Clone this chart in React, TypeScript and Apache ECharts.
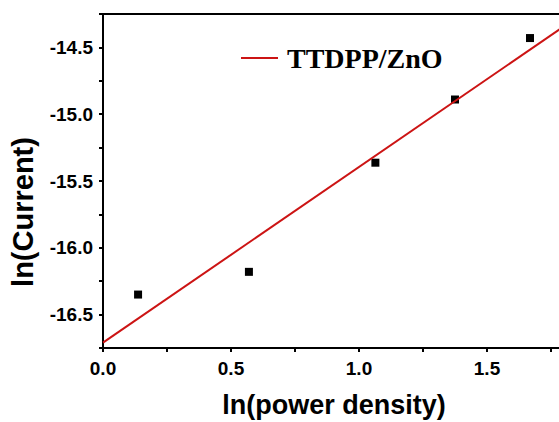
import React, { useEffect, useRef } from "react";
import * as echarts from "echarts";

const xData = [0.137, 0.57, 1.064, 1.375, 1.668];
const yData = [-16.35, -16.18, -15.363, -14.89, -14.43];
const fitX = [0, 2.0];
const fitY = [-16.71, -14.08];
const seriesName = "TTDPP/ZnO";
const xTitle = "ln(power density)";
const yTitle = "ln(Current)";

export default function App() {
  const ref = useRef<HTMLDivElement>(null);
  useEffect(() => {
    if (!ref.current) return;
    const chart = echarts.init(ref.current, null, { renderer: "svg" });
    const sans = "Liberation Sans, Arial, sans-serif";
    const fmt = (v: number) => {
      const r = Math.round(v * 100);
      if (v > 1.8) return "";
      return r % 50 === 0 ? v.toFixed(1) : "";
    };
    chart.setOption({
      animation: false,
      backgroundColor: "#fff",
      grid: {
        left: 103,
        top: 14,
        width: 512,
        height: 334,
        show: true,
        borderColor: "#000",
        borderWidth: 2,
        backgroundColor: "transparent",
        outerBoundsMode: "none",
      },
      legend: {
        data: [{ name: seriesName, icon: "rect" }],
        left: 236,
        top: 39,
        itemWidth: 37,
        itemHeight: 2,
        itemGap: 0,
        textStyle: {
          fontFamily: "Liberation Serif, Times New Roman, serif",
          fontWeight: "bold",
          fontSize: 28,
          color: "#000",
          padding: [0, 0, 0, 4],
        },
      },
      xAxis: {
        type: "value",
        min: 0,
        max: 2,
        interval: 0.25,
        splitLine: { show: false },
        axisLine: { show: true, onZero: false, lineStyle: { color: "#000", width: 2 } },
        axisTick: { show: true, length: 4, lineStyle: { color: "#000", width: 2 } },
        axisLabel: {
          formatter: fmt,
          color: "#000",
          fontFamily: sans,
          fontWeight: "bold",
          fontSize: 19,
          margin: 11,
        },
      },
      yAxis: {
        type: "value",
        min: -16.75,
        max: -14.25,
        interval: 0.25,
        splitLine: { show: false },
        axisLine: { show: true, onZero: false, lineStyle: { color: "#000", width: 2 } },
        axisTick: { show: true, length: 4, lineStyle: { color: "#000", width: 2 } },
        axisLabel: {
          formatter: fmt,
          color: "#000",
          fontFamily: sans,
          fontWeight: "bold",
          fontSize: 19,
          margin: 10,
        },
      },
      graphic: [
        {
          type: "text",
          x: 334,
          y: 405,
          style: {
            text: xTitle,
            fill: "#000",
            font: `bold 27px ${sans}`,
            textAlign: "center",
            textVerticalAlign: "middle",
          },
        },
        {
          type: "text",
          x: 23,
          y: 212,
          rotation: Math.PI / 2,
          style: {
            text: yTitle,
            fill: "#000",
            font: `bold 29px ${sans}`,
            textAlign: "center",
            textVerticalAlign: "middle",
          },
        },
      ],
      series: [
        {
          name: seriesName,
          type: "line",
          data: fitX.map((x, i) => [x, fitY[i]]),
          symbol: "none",
          lineStyle: { color: "#cc1414", width: 2 },
          itemStyle: { color: "#cc1414" },
        },
        {
          name: "data",
          type: "scatter",
          data: xData.map((x, i) => [x, yData[i]]),
          symbol: "rect",
          symbolSize: 8,
          itemStyle: { color: "#000", opacity: 1 },
        },
      ],
    });
    return () => chart.dispose();
  }, []);
  return (
    <div
      style={{ position: "absolute", left: 0, top: 0, width: 559, height: 422, overflow: "hidden" }}
    >
      <div ref={ref} style={{ width: 640, height: 422 }} />
    </div>
  );
}
